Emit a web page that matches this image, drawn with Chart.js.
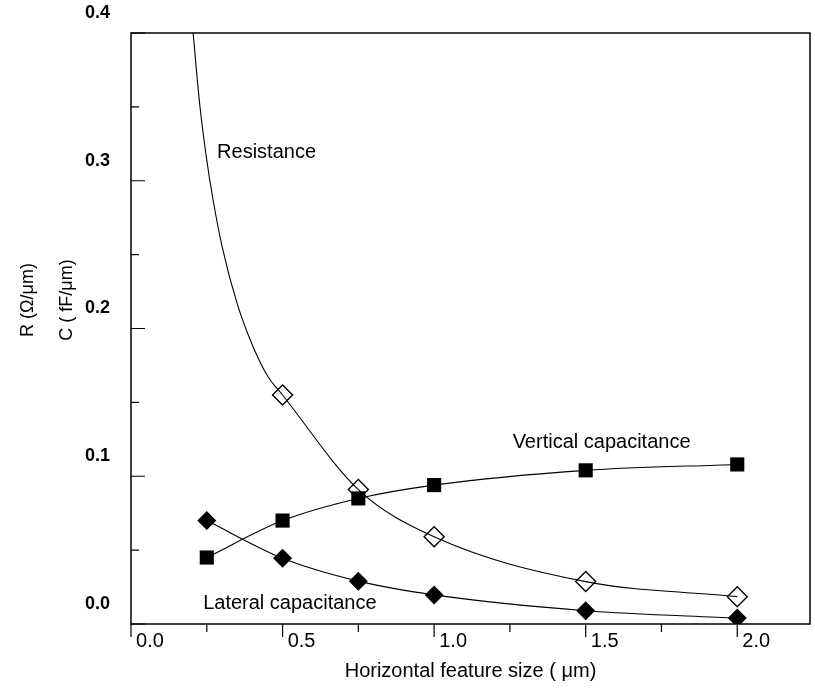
<!DOCTYPE html>
<html lang="en">
<head>
<meta charset="UTF-8">
<title>R and C vs horizontal feature size</title>
<script src="https://cdn.jsdelivr.net/npm/chart.js"></script>
<style>
  html, body { margin: 0; padding: 0; background: #fff; }
  #wrap { width: 815px; height: 691px; position: relative; }
</style>
</head>
<body>
<div id="wrap"><canvas id="rcChart"></canvas></div>
<script>
// values
const featureSize = [0.25, 0.5, 0.75, 1.0, 1.5, 2.0];
const verticalCap = [0.045, 0.070, 0.085, 0.094, 0.104, 0.108];
const lateralCap  = [0.070, 0.0445, 0.029, 0.0197, 0.009, 0.004];
const resistanceX = [0.5, 0.75, 1.0, 1.5, 2.0];
const resistance  = [0.155, 0.091, 0.059, 0.0287, 0.0185];
// fitted resistance curve
const resCurveX = [0.205, 0.226, 0.25, 0.27, 0.30, 0.35, 0.40, 0.45, 0.5, 0.75, 1.0, 1.5, 2.0];
const resCurveY = [0.400, 0.353, 0.314, 0.288, 0.256, 0.217, 0.189, 0.168, 0.155, 0.091, 0.059, 0.0287, 0.0185];

const xTicks = [0, 0.5, 1.0, 1.5, 2.0];
const xMinorTicks = [0.25, 0.75, 1.25, 1.75];
const yTicks = [0, 0.1, 0.2, 0.3, 0.4];
const yMinorTicks = [0.05, 0.15, 0.25, 0.35];

const FONT = "'Liberation Sans', Arial, Helvetica, sans-serif";

const pts = (xs, ys) => xs.map((x, i) => ({ x: x, y: ys[i] }));

// text labels next to the curves (anchored in data units)
const notes = [
  { text: 'Resistance', x: 0.284, y: 0.319 },
  { text: 'Vertical capacitance', x: 1.259, y: 0.123 },
  { text: 'Lateral capacitance', x: 0.238, y: 0.0142 }
];

// box, tick marks, curve labels and the two-line y title
const decor = {
  id: 'decor',
  afterDatasetsDraw(chart) {
    const { ctx, chartArea: a, scales: { x, y } } = chart;
    ctx.save();
    ctx.strokeStyle = '#000';
    ctx.lineWidth = 1.5;
    ctx.strokeRect(a.left, a.top, a.right - a.left, a.bottom - a.top);

    ctx.lineWidth = 1.2;
    ctx.beginPath();
    xTicks.forEach(v => {
      const px = x.getPixelForValue(v);
      ctx.moveTo(px, a.bottom); ctx.lineTo(px, a.bottom + 13);
    });
    xMinorTicks.forEach(v => {
      const px = x.getPixelForValue(v);
      ctx.moveTo(px, a.bottom); ctx.lineTo(px, a.bottom + 8);
    });
    yTicks.forEach(v => {
      const py = y.getPixelForValue(v);
      ctx.moveTo(a.left, py); ctx.lineTo(a.left + 14, py);
    });
    yMinorTicks.forEach(v => {
      const py = y.getPixelForValue(v);
      ctx.moveTo(a.left, py); ctx.lineTo(a.left + 8, py);
    });
    ctx.stroke();

    ctx.fillStyle = '#000';
    ctx.font = '20px ' + FONT;
    ctx.textAlign = 'left';
    ctx.textBaseline = 'middle';
    notes.forEach(n => {
      ctx.fillText(n.text, x.getPixelForValue(n.x), y.getPixelForValue(n.y));
    });

    // y axis title, two rotated lines
    ctx.font = '18px ' + FONT;
    ctx.textAlign = 'center';
    [['R (Ω/μm)', a.left - 103], ['C ( fF/μm)', a.left - 64]].forEach(([t, cx]) => {
      ctx.save();
      ctx.translate(cx, 300);
      ctx.rotate(-Math.PI / 2);
      ctx.fillText(t, 0, 0);
      ctx.restore();
    });
    ctx.restore();
  }
};

const ctx = document.getElementById('rcChart').getContext('2d');
new Chart(ctx, {
  type: 'scatter',
  data: {
    datasets: [
      {
        label: 'Resistance',
        data: pts(resistanceX, resistance),
        showLine: false,
        pointStyle: 'rectRot',
        pointRadius: 10,
        pointBackgroundColor: 'rgba(255,255,255,0)',
        pointBorderColor: '#000',
        pointBorderWidth: 1.4
      },
      {
        label: 'Vertical capacitance',
        data: pts(featureSize, verticalCap),
        showLine: true,
        cubicInterpolationMode: 'monotone',
        borderColor: '#000',
        borderWidth: 1.1,
        pointStyle: 'rect',
        pointRadius: 10,
        pointBackgroundColor: '#000',
        pointBorderColor: '#000',
        pointBorderWidth: 0
      },
      {
        label: 'Lateral capacitance',
        data: pts(featureSize, lateralCap),
        showLine: true,
        cubicInterpolationMode: 'monotone',
        borderColor: '#000',
        borderWidth: 1.1,
        pointStyle: 'rectRot',
        pointRadius: 9.5,
        pointBackgroundColor: '#000',
        pointBorderColor: '#000',
        pointBorderWidth: 0
      },
      {
        label: 'Resistance fit',
        data: pts(resCurveX, resCurveY),
        showLine: true,
        cubicInterpolationMode: 'monotone',
        borderColor: '#000',
        borderWidth: 1.1,
        pointRadius: 0
      }
    ]
  },
  options: {
    responsive: true,
    maintainAspectRatio: false,
    animation: false,
    layout: { autoPadding: false, padding: { left: 0, right: 5, top: 33, bottom: 0 } },
    plugins: {
      legend: { display: false },
      tooltip: { enabled: false }
    },
    scales: {
      x: {
        type: 'linear',
        min: 0,
        max: 2.24,
        afterBuildTicks: s => { s.ticks = xTicks.map(v => ({ value: v })); },
        afterFit: s => { s.height = 67; s.paddingLeft = 0; s.paddingRight = 0; },
        grid: { display: false, drawTicks: false },
        border: { display: false },
        ticks: {
          color: '#000',
          font: { family: FONT, size: 20 },
          padding: 5,
          labelOffset: 19,
          maxRotation: 0,
          autoSkip: false,
          callback: v => v.toFixed(1)
        },
        title: {
          display: true,
          text: 'Horizontal feature size ( μm)',
          color: '#000',
          font: { family: FONT, size: 20 },
          padding: { top: 0, bottom: 8 }
        }
      },
      y: {
        type: 'linear',
        min: 0,
        max: 0.4,
        afterBuildTicks: s => { s.ticks = yTicks.map(v => ({ value: v })); },
        afterFit: s => { s.width = 131; s.paddingTop = 0; s.paddingBottom = 0; },
        grid: { display: false, drawTicks: false },
        border: { display: false },
        ticks: {
          color: '#000',
          font: { family: FONT, size: 18, weight: 'bold' },
          padding: 21,
          labelOffset: -20,
          callback: v => v.toFixed(1)
        }
      }
    }
  },
  plugins: [decor]
});
</script>
</body>
</html>
